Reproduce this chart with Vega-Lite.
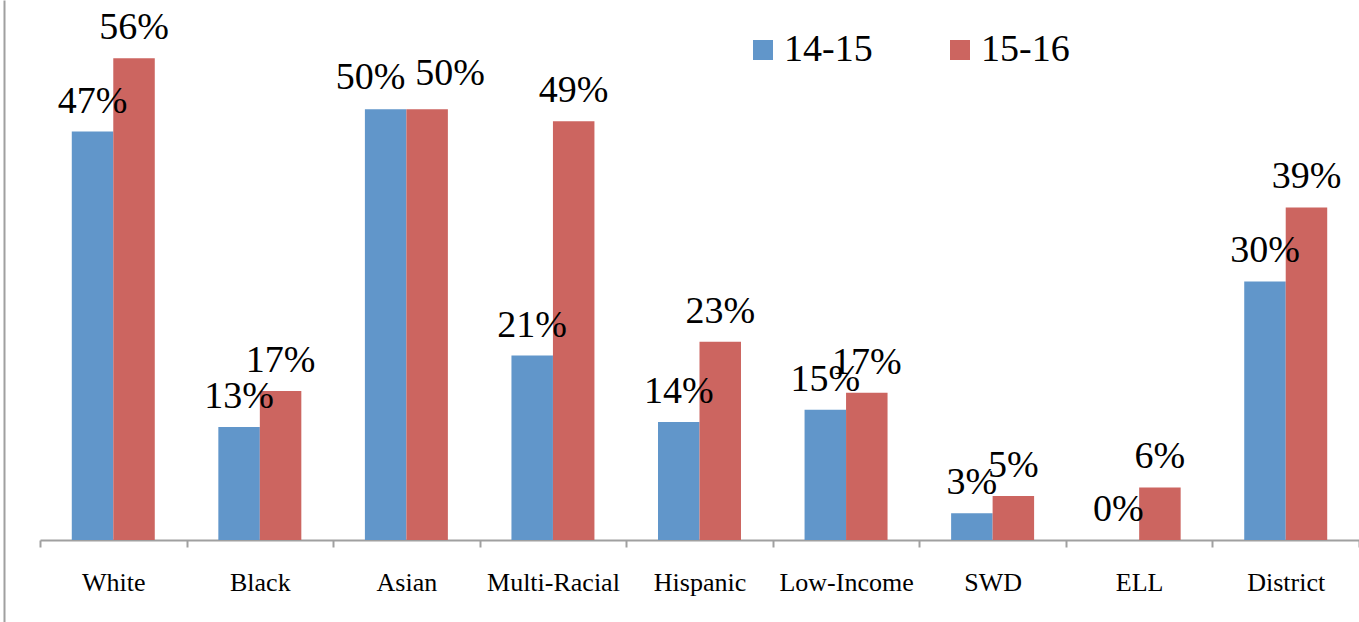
{
  "$schema": "https://vega.github.io/schema/vega-lite/v6.json",
  "width": 1319,
  "height": 622,
  "autosize": "none",
  "padding": {"left": 40, "top": 0, "right": 0, "bottom": 0},
  "background": "white",
  "config": {"view": {"stroke": null}, "font": "Liberation Serif"},
  "data": {
    "values": [
      {"group": "White", "year": "14-15", "value": 0.474},
      {"group": "White", "year": "15-16", "value": 0.559},
      {"group": "Black", "year": "14-15", "value": 0.131},
      {"group": "Black", "year": "15-16", "value": 0.173},
      {"group": "Asian", "year": "14-15", "value": 0.50},
      {"group": "Asian", "year": "15-16", "value": 0.50},
      {"group": "Multi-Racial", "year": "14-15", "value": 0.214},
      {"group": "Multi-Racial", "year": "15-16", "value": 0.486},
      {"group": "Hispanic", "year": "14-15", "value": 0.137},
      {"group": "Hispanic", "year": "15-16", "value": 0.230},
      {"group": "Low-Income", "year": "14-15", "value": 0.151},
      {"group": "Low-Income", "year": "15-16", "value": 0.171},
      {"group": "SWD", "year": "14-15", "value": 0.031},
      {"group": "SWD", "year": "15-16", "value": 0.051},
      {"group": "ELL", "year": "14-15", "value": 0.00},
      {"group": "ELL", "year": "15-16", "value": 0.061},
      {"group": "District", "year": "14-15", "value": 0.300},
      {"group": "District", "year": "15-16", "value": 0.386}
    ]
  },
  "encoding": {
    "x": {
      "field": "group",
      "type": "nominal",
      "sort": null,
      "scale": {"paddingInner": 0, "paddingOuter": 0},
      "axis": {
        "title": null,
        "orient": "bottom",
        "offset": -82,
        "tickBand": "extent",
        "domainColor": "#A0A0A0",
        "domainWidth": 2,
        "tickColor": "#A0A0A0",
        "tickWidth": 2,
        "tickSize": 7,
        "labelFont": "Liberation Serif",
        "labelFontSize": 26,
        "labelColor": "black",
        "labelPadding": 22,
        "labelAngle": 0,
        "labelBaseline": "top",
        "grid": false
      }
    },
    "xOffset": {
      "field": "year",
      "type": "nominal",
      "sort": ["14-15", "15-16"],
      "scale": {"paddingInner": 0, "paddingOuter": 0.766}
    },
    "y": {
      "field": "value",
      "type": "quantitative",
      "stack": null,
      "scale": {"domain": [-0.0952, 0.6267], "nice": false},
      "axis": {
        "title": null,
        "orient": "left",
        "offset": 36,
        "domainColor": "#A0A0A0",
        "domainWidth": 2,
        "ticks": false,
        "labels": false,
        "grid": false
      }
    }
  },
  "layer": [
    {
      "mark": {"type": "bar"},
      "encoding": {
        "y2": {"datum": 0},
        "color": {
          "field": "year",
          "type": "nominal",
          "scale": {"domain": ["14-15", "15-16"], "range": ["#6196CA", "#CC6560"]},
          "legend": {
            "title": null,
            "orient": "none",
            "direction": "horizontal",
            "legendX": 704,
            "legendY": 31,
            "symbolType": "square",
            "symbolSize": 400,
            "symbolStrokeWidth": 0,
            "labelFontSize": 38,
            "labelFont": "Liberation Serif",
            "labelColor": "black",
            "labelOffset": 2,
            "columnPadding": 68
          }
        }
      }
    },
    {
      "transform": [{"filter": "datum.group !== 'Asian'"}],
      "mark": {"type": "text", "baseline": "alphabetic", "dy": -19, "fontSize": 38, "font": "Liberation Serif", "color": "black"},
      "encoding": {
        "text": {"field": "value", "type": "quantitative", "format": ".0%"}
      }
    },
    {
      "transform": [{"filter": "datum.group === 'Asian' && datum.year === '14-15'"}],
      "mark": {"type": "text", "baseline": "alphabetic", "dx": -15, "dy": -20, "fontSize": 38, "font": "Liberation Serif", "color": "black"},
      "encoding": {
        "text": {"field": "value", "type": "quantitative", "format": ".0%"}
      }
    },
    {
      "transform": [{"filter": "datum.group === 'Asian' && datum.year === '15-16'"}],
      "mark": {"type": "text", "baseline": "alphabetic", "dx": 23, "dy": -24, "fontSize": 38, "font": "Liberation Serif", "color": "black"},
      "encoding": {
        "text": {"field": "value", "type": "quantitative", "format": ".0%"}
      }
    }
  ]
}
